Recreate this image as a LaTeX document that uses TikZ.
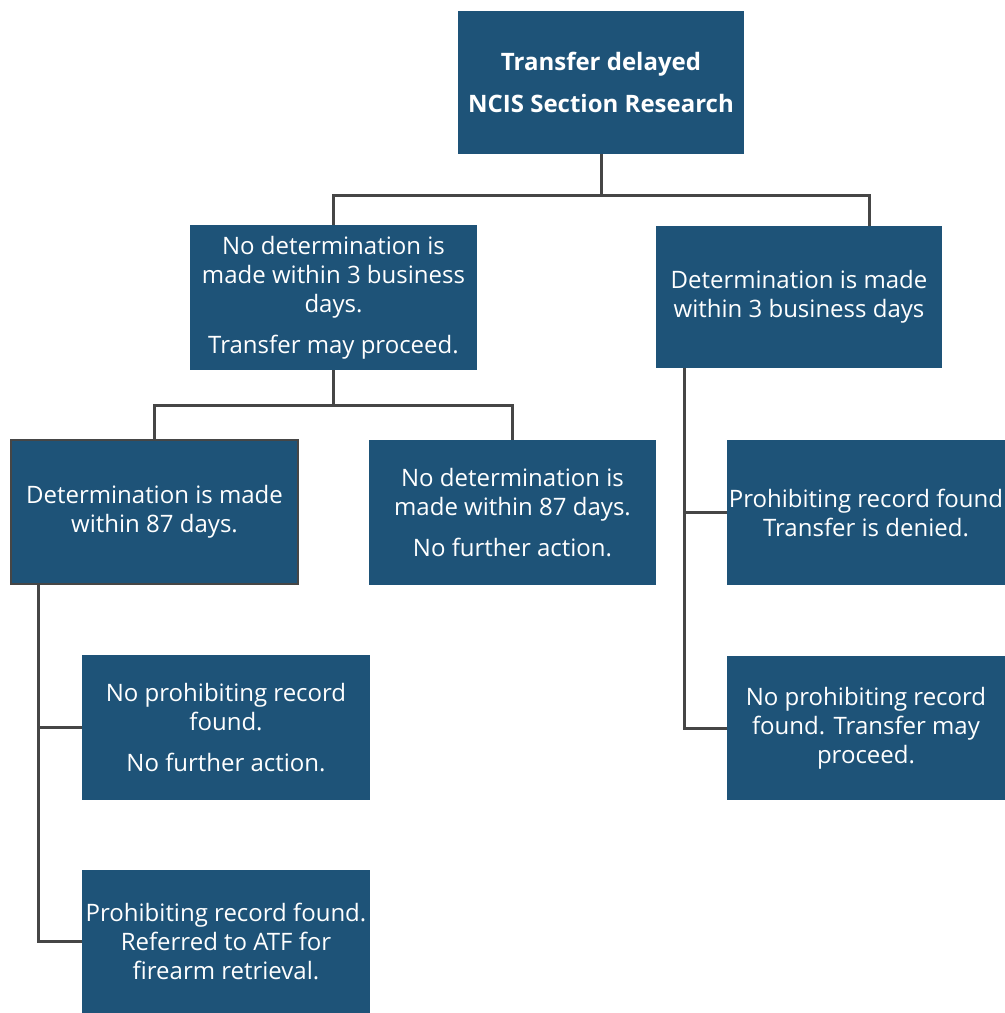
\documentclass[tikz,border=0pt]{standalone}
\usepackage{fontspec}
\setmainfont{Open Sans}
\definecolor{boxblue}{RGB}{30,83,120}
\definecolor{linegrey}{RGB}{70,70,70}
\begin{document}
\begin{tikzpicture}[x=0.5pt,y=-0.5pt,
  box/.style={fill=boxblue,text=white,align=center,inner sep=0pt,
    font=\fontsize{12}{14.5}\selectfont},
  link/.style={draw=linegrey,line width=1.5pt}]
\useasboundingbox (0,0) rectangle (1005,1013);

% top
\node[box,minimum width=143pt,minimum height=71.5pt,font=\bfseries\fontsize{12}{14.5}\selectfont]
  (delayed) at (601,82.5) {Transfer delayed\\[6.5pt]NCIS Section Research};

% first level
\node[box,minimum width=143.5pt,minimum height=72.5pt] (nodet) at (333.5,297.5)
  {No determination is\\made within 3 business\\days.\\[6pt]Transfer may proceed.};
\node[box,minimum width=143pt,minimum height=71pt] (det) at (799,297)
  {Determination is made\\within 3 business days};

% second level, left
\node[box,draw=linegrey,line width=1.2pt,minimum width=143.5pt,minimum height=72pt] (det87) at (154.5,512)
  {Determination is made\\within 87 days.};
\node[box,minimum width=143.5pt,minimum height=72.5pt] (nodet87) at (512.5,512.5)
  {No determination is\\made within 87 days.\\[6pt]No further action.};

% second level, right
\node[box,minimum width=139pt,minimum height=72.5pt] (denied) at (866,512.5)
  {Prohibiting record found\\Transfer is denied.};
\node[box,minimum width=139pt,minimum height=72pt] (proceed) at (866,728)
  {No prohibiting record\\found. Transfer may\\proceed.};

% third level
\node[box,minimum width=144pt,minimum height=72.5pt] (nofurther) at (226,727.5)
  {No prohibiting record\\found.\\[6pt]No further action.};
\node[box,minimum width=144pt,minimum height=71.5pt] (atf) at (226,941.5)
  {Prohibiting record found.\\Referred to ATF for\\firearm retrieval.};

% connectors
\coordinate (split1) at (601,195);
\coordinate (split2) at (333.5,405);
\draw[link] (delayed.south) -- (split1) -| (nodet.north);
\draw[link] (split1) -| ([xshift=-36.5pt]det.north east);
\draw[link] (nodet.south) -- (split2) -| (det87.north);
\draw[link] (split2) -| (nodet87.north);

\draw[link] ([xshift=14.5pt]det.south west) |- (denied.west);
\draw[link] ([xshift=14.5pt]det.south west) |- (proceed.west);
\draw[link] ([xshift=14.5pt]det87.south west) |- (nofurther.west);
\draw[link] ([xshift=14.5pt]det87.south west) |- (atf.west);

\end{tikzpicture}
\end{document}
